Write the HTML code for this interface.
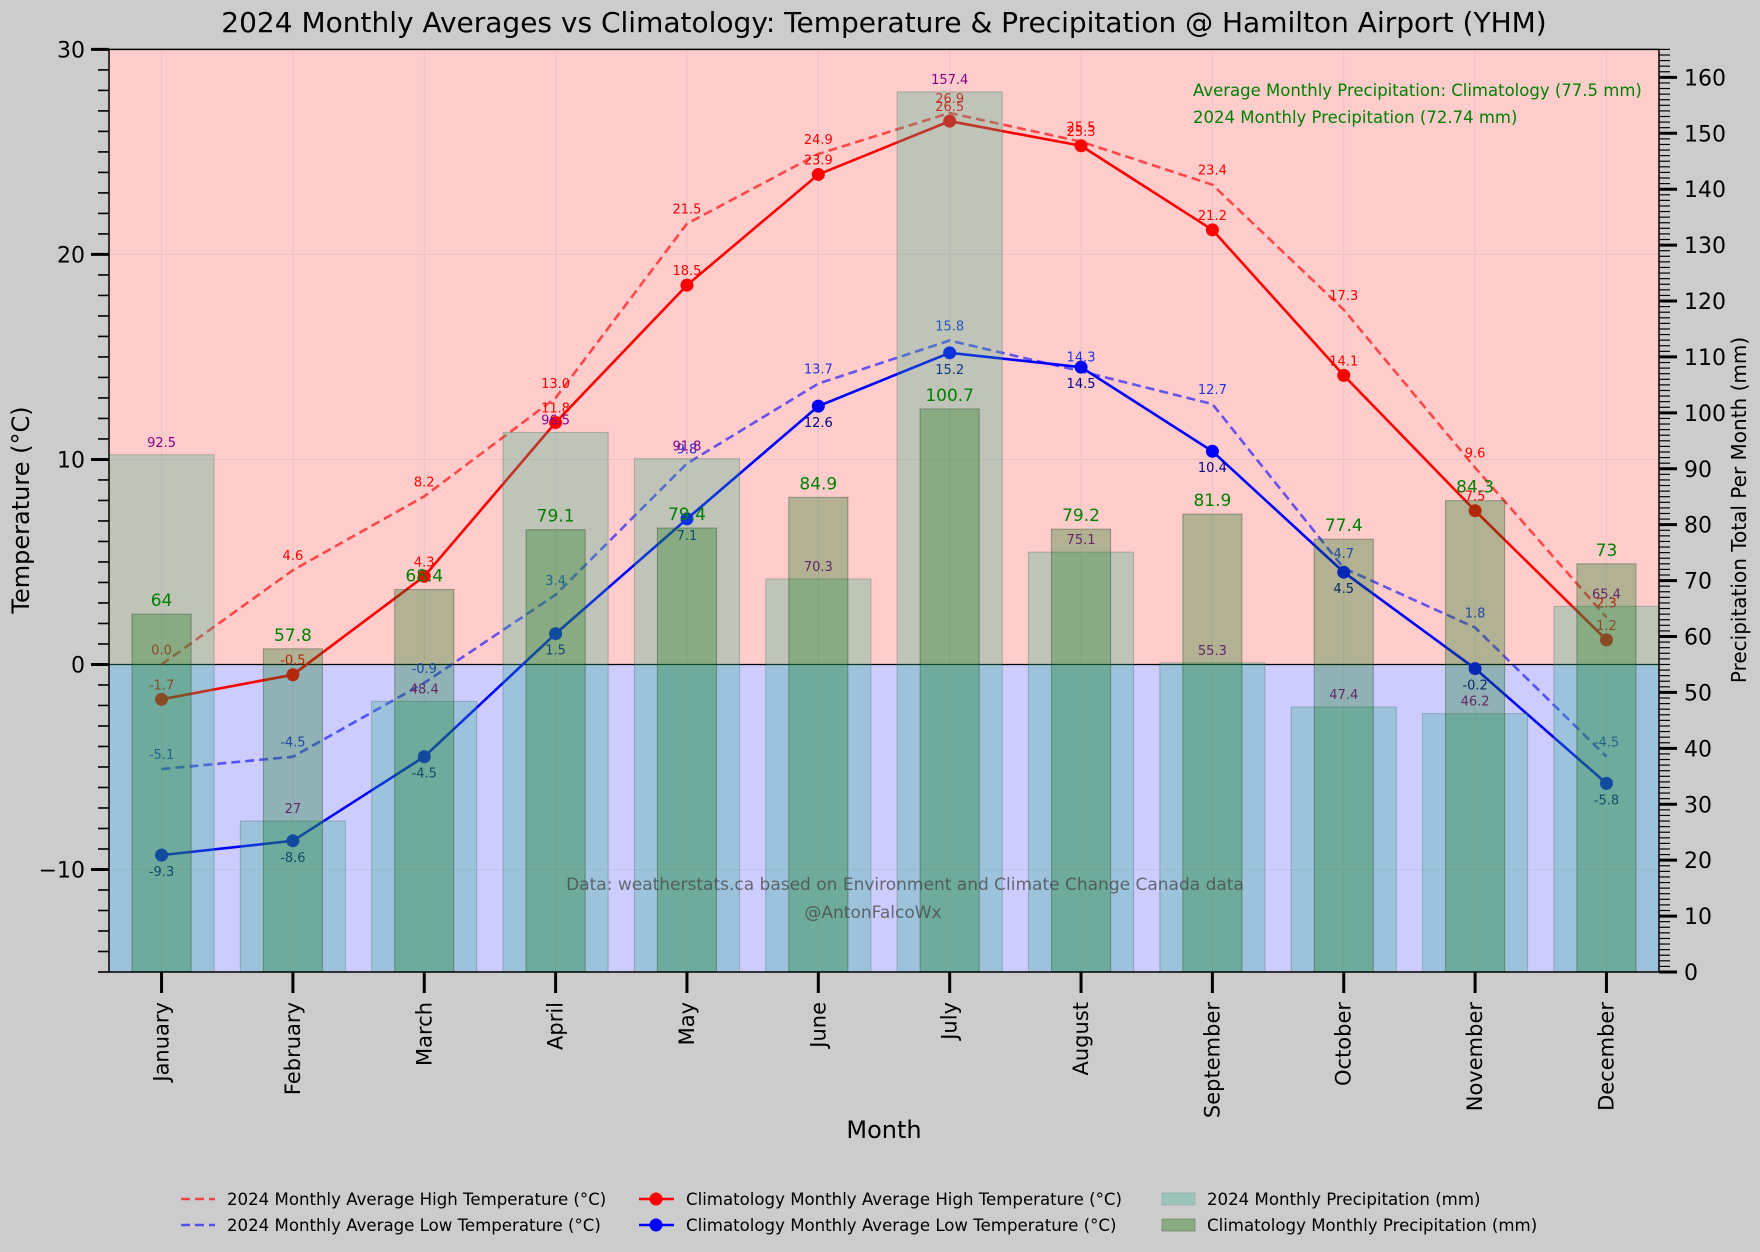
<!DOCTYPE html>
<html><head><meta charset="utf-8"><style>
html,body{margin:0;padding:0;background:#cccccc;}
svg{display:block;font-family:"DejaVu Sans","Liberation Sans",sans-serif;}
</style></head><body>
<svg id="chart" width="1760" height="1252" xmlns="http://www.w3.org/2000/svg">
<rect width="1760" height="1252" fill="#cccccc"/>
<g id="plot"></g>
</svg>
<script>
const months = ["January","February","March","April","May","June","July","August","September","October","November","December"];
const high2024 = [0.0,4.6,8.2,13.0,21.5,24.9,26.9,25.5,23.4,17.3,9.6,2.3];
const highClim = [-1.7,-0.5,4.3,11.8,18.5,23.9,26.5,25.3,21.2,14.1,7.5,1.2];
const low2024 = [-5.1,-4.5,-0.9,3.4,9.8,13.7,15.8,14.3,12.7,4.7,1.8,-4.5];
const lowClim = [-9.3,-8.6,-4.5,1.5,7.1,12.6,15.2,14.5,10.4,4.5,-0.2,-5.8];
const precip2024 = [92.5,27,48.4,96.5,91.8,70.3,157.4,75.1,55.3,47.4,46.2,65.4];
const precipClim = [64,57.8,68.4,79.1,79.4,84.9,100.7,79.2,81.9,77.4,84.3,73];
const tempTicks = [-10,0,10,20,30];
const precipTicks = [0,10,20,30,40,50,60,70,80,90,100,110,120,130,140,150,160];

const L=109,R=1659,T=49.4,B=972;
const tMin=-15,tMax=30,pMax=165;
const xS=i=>L+(i+0.4)/11.8*(R-L);
const yT=v=>T+(tMax-v)/(tMax-tMin)*(B-T);
const yP=v=>B-v/pMax*(B-T);
const step=(R-L)/11.8;
const NS="http://www.w3.org/2000/svg";
const svg=document.getElementById('chart');
function mk(tag,attrs,parent,text){const e=document.createElementNS(NS,tag);for(const k in attrs)e.setAttribute(k,attrs[k]);if(text!==undefined)e.textContent=text;(parent||svg).appendChild(e);return e;}

let e;
e=mk('rect',{x:L,y:T,width:R-L,height:yT(0)-T,fill:'#ffcccc'});


e=mk('rect',{x:L,y:yT(0),width:R-L,height:B-yT(0),fill:'#ccccff'});


months.forEach((m,i)=>{e=mk('line',{x1:xS(i),x2:xS(i),y1:T,y2:B,stroke:'#999',"stroke-opacity":0.2,"stroke-width":1});

});
tempTicks.forEach(v=>{e=mk('line',{x1:L,x2:R,y1:yT(v),y2:yT(v),stroke:'#999',"stroke-opacity":0.2,"stroke-width":1});

});
e=mk('line',{x1:L,x2:R,y1:yT(0),y2:yT(0),stroke:'#000',"stroke-width":1.3});



function series(vals,color,dashed,markers,name,op){
  const pts=vals.map((v,i)=>xS(i)+','+yT(v)).join(' ');
  e=mk('polyline',{points:pts,fill:'none',stroke:color,"stroke-width":2.6,"stroke-opacity":op,"stroke-dasharray":dashed?'9,5':'none'});
  
  
  if(markers)vals.forEach((v,i)=>{e=mk('circle',{cx:xS(i),cy:yT(v),r:6.5,fill:color});
    
    });
}
series(high2024,'#ff0000',true,false,'high-2024',0.65);
series(low2024,'#0000ff',true,false,'low-2024',0.6);
series(highClim,'#ff0000',false,true,'high-climatology',1);
series(lowClim,'#0000ff',false,true,'low-climatology',1);

function labels(vals,color,dy,name){vals.forEach((v,i)=>{e=mk('text',{x:xS(i),y:yT(v)+dy,fill:color,"font-size":13,"text-anchor":'middle'},svg,v.toFixed(1));

});}
labels(high2024,'#ff0000',-10,'high-2024');
labels(highClim,'#ff0000',-10,'high-climatology');
labels(low2024,'#2233dd',-10,'low-2024');
labels(lowClim,'#000088',21,'low-climatology');

precip2024.forEach((v,i)=>{const w=0.8*step;
  e=mk('rect',{x:xS(i)-w/2,y:yP(v),width:w,height:B-yP(v),fill:'rgb(45,175,137)',"fill-opacity":0.3,stroke:'#446655',"stroke-opacity":0.35});
  
  
  e=mk('text',{x:xS(i),y:yP(v)-8,fill:'#880088',"font-size":13,"text-anchor":'middle'},svg,String(v));
  
  });
precipClim.forEach((v,i)=>{const w=0.45*step;
  e=mk('rect',{x:xS(i)-w/2,y:yP(v),width:w,height:B-yP(v),fill:'rgb(20,120,30)',"fill-opacity":0.33,stroke:'#224422',"stroke-opacity":0.4});
  
  
  e=mk('text',{x:xS(i),y:yP(v)-8,fill:'#008000',"font-size":17,"text-anchor":'middle'},svg,String(v));
  
  });

e=mk('rect',{x:L,y:T,width:R-L,height:B-T,fill:'none',stroke:'#000',"stroke-width":1.5});



for(let v=tMin;v<=tMax;v++){const maj=v%10===0;
  e=mk('line',{x1:L-(maj?18:11),x2:L,y1:yT(v),y2:yT(v),stroke:'#000',"stroke-width":maj?3:1.6});
  
  }
tempTicks.forEach(v=>{e=mk('text',{x:L-24,y:yT(v)+8,"font-size":22,"text-anchor":'end',fill:'#000'},svg,v<0?'\u2212'+(-v):String(v));
  
  });
for(let v=0;v<=pMax;v++){const maj=v%10===0;
  e=mk('line',{x1:R,x2:R+(maj?18:11),y1:yP(v),y2:yP(v),stroke:'#000',"stroke-width":maj?3:1.2});
  
  }
precipTicks.forEach(v=>{e=mk('text',{x:R+25,y:yP(v)+8,"font-size":22,fill:'#000'},svg,String(v));
  
  });
months.forEach((m,i)=>{e=mk('line',{x1:xS(i),x2:xS(i),y1:B,y2:B+21,stroke:'#000',"stroke-width":3});
  
  
  e=mk('text',{x:0,y:0,"font-size":21,"text-anchor":'end',"dominant-baseline":'central',fill:'#000',transform:`translate(${xS(i)},1002) rotate(-90)`},svg,m);
  
  });
</script>
<svg style="position:absolute;left:0;top:0" width="1760" height="1252" xmlns="http://www.w3.org/2000/svg" font-family="DejaVu Sans, Liberation Sans, sans-serif">
<text x="884" y="32" font-size="28" text-anchor="middle">2024 Monthly Averages vs Climatology: Temperature &amp; Precipitation @ Hamilton Airport (YHM)</text>
<text transform="translate(29,510) rotate(-90)" font-size="24" text-anchor="middle">Temperature (°C)</text>
<text transform="translate(1746,510) rotate(-90)" font-size="20" text-anchor="middle">Precipitation Total Per Month (mm)</text>
<text x="884" y="1138" font-size="24" text-anchor="middle">Month</text>
<text x="1193" y="96" font-size="16.5" fill="#008000">Average Monthly Precipitation: Climatology (77.5 mm)</text>
<text x="1193" y="123" font-size="16.5" fill="#008000">2024 Monthly Precipitation (72.74 mm)</text>
<text x="905" y="890" font-size="17" fill="#444" fill-opacity="0.75" text-anchor="middle">Data: weatherstats.ca based on Environment and Climate Change Canada data</text>
<text x="873" y="918" font-size="17" fill="#444" fill-opacity="0.75" text-anchor="middle">@AntonFalcoWx</text>
<g font-size="16.6">
<line x1="181" x2="215" y1="1199" y2="1199" stroke="#ff0000" stroke-opacity="0.65" stroke-width="2.6" stroke-dasharray="9,5"/>
<text x="227" y="1205">2024 Monthly Average High Temperature (°C)</text>
<line x1="181" x2="215" y1="1225" y2="1225" stroke="#0000ff" stroke-opacity="0.6" stroke-width="2.6" stroke-dasharray="9,5"/>
<text x="227" y="1231">2024 Monthly Average Low Temperature (°C)</text>
<line x1="639" x2="674" y1="1199" y2="1199" stroke="#ff0000" stroke-width="2.6"/><circle cx="656" cy="1199" r="6.5" fill="#ff0000"/>
<text x="686" y="1205">Climatology Monthly Average High Temperature (°C)</text>
<line x1="639" x2="674" y1="1225" y2="1225" stroke="#0000ff" stroke-width="2.6"/><circle cx="656" cy="1225" r="6.5" fill="#0000ff"/>
<text x="686" y="1231">Climatology Monthly Average Low Temperature (°C)</text>
<rect x="1162" y="1193" width="33" height="12" fill="#9cc4b8" stroke="#8aa" stroke-width="0.6"/>
<text x="1207" y="1205">2024 Monthly Precipitation (mm)</text>
<rect x="1162" y="1219" width="33" height="12" fill="#8aab80" stroke="#676" stroke-width="0.6"/>
<text x="1207" y="1231">Climatology Monthly Precipitation (mm)</text>
</g>
</svg>
</body></html>
